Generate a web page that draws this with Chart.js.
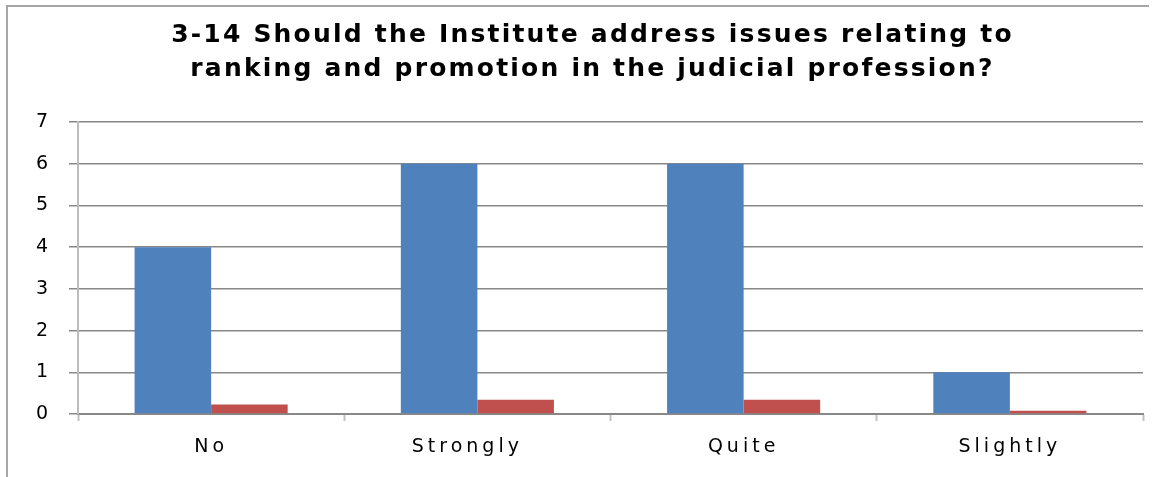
<!DOCTYPE html>
<html>
<head>
<meta charset="utf-8">
<script src="https://cdn.jsdelivr.net/npm/chart.js@4.4.1/dist/chart.umd.min.js"></script>
<style>
  html, body { margin: 0; padding: 0; background: #ffffff; }
  #wrap { position: relative; width: 1161px; height: 477px; overflow: hidden; }
  #frame { position: absolute; left: 6px; top: 5px; width: 1141px; height: 480px;
           border-top: 2px solid #a6a6a6; border-left: 2px solid #a6a6a6; pointer-events: none; }
  canvas { position: absolute; left: 0; top: 0; }
</style>
</head>
<body>
<div id="wrap">
  <canvas id="c" width="1161" height="477"></canvas>
  <div id="frame"></div>
</div>
<script>
// Survey question 3-14: answer counts and their share of respondents
const titleLines = [
  '3-14 Should the Institute address issues relating to',
  'ranking and promotion in the judicial profession?'
];
const categories = ['No', 'Strongly  ', 'Quite', 'Slightly'];
const countValues = [4, 6, 6, 1];
const shareValues = [0.23, 0.34, 0.34, 0.08];
const yMin = 0;
const yMax = 7;
const yStep = 1;

const TICK_SPACING = '4px';
const TITLE_SPACING = '2.2px';
const TITLE_SHIFT_X = 21;

// Spaced-out lettering: axis labels use one spacing, the title another
const spacing = {
  id: 'spacing',
  afterInit(chart) {
    const tb = chart.titleBlock;
    if (tb && !tb._spaced) {
      const baseDraw = tb.draw.bind(tb);
      tb.draw = function () {
        const c = chart.ctx;
        c.save();
        c.letterSpacing = TITLE_SPACING;
        c.translate(TITLE_SHIFT_X, 0);
        baseDraw();
        c.restore();
      };
      tb._spaced = true;
    }
  },
  beforeLayout(chart) { chart.ctx.letterSpacing = TICK_SPACING; },
  beforeDraw(chart) { chart.ctx.letterSpacing = TICK_SPACING; }
};

const ctx = document.getElementById('c');
new Chart(ctx, {
  type: 'bar',
  data: {
    labels: categories,
    datasets: [
      { label: 'Count', data: countValues, backgroundColor: '#4F81BD', borderWidth: 0 },
      { label: 'Share', data: shareValues, backgroundColor: '#C0504D', borderWidth: 0 }
    ]
  },
  options: {
    responsive: false,
    devicePixelRatio: 1,
    animation: false,
    categoryPercentage: 0.575,
    barPercentage: 1,
    layout: { padding: { left: 0, right: 18, top: 0, bottom: 0 } },
    plugins: {
      legend: { display: false },
      tooltip: { enabled: false },
      title: {
        display: true,
        text: titleLines,
        color: '#000000',
        font: { family: 'DejaVu Sans', size: 25, weight: 'bold', lineHeight: 1.34 },
        padding: { top: 19, bottom: 36 }
      }
    },
    scales: {
      x: {
        offset: true,
        grid: {
          offset: true,
          drawOnChartArea: false,
          drawTicks: true,
          tickLength: 7,
          tickColor: '#c0c0c0',
          tickWidth: 2
        },
        border: { display: true, color: '#888888', width: 2 },
        ticks: {
          color: '#000000',
          font: { family: 'DejaVu Sans', size: 19 },
          padding: 15,
          maxRotation: 0
        },
        afterFit(scale) { scale.height = 63; }
      },
      y: {
        min: yMin,
        max: yMax,
        grid: {
          color: '#888888',
          lineWidth: 1.5,
          drawTicks: true,
          tickLength: 9,
          tickColor: '#888888'
        },
        border: { display: true, color: '#bdbdbd', width: 2 },
        ticks: {
          stepSize: yStep,
          color: '#000000',
          font: { family: 'DejaVu Sans', size: 19 },
          padding: 17
        },
        afterFit(scale) { scale.width = 78; }
      }
    }
  },
  plugins: [spacing]
});
</script>
</body>
</html>
